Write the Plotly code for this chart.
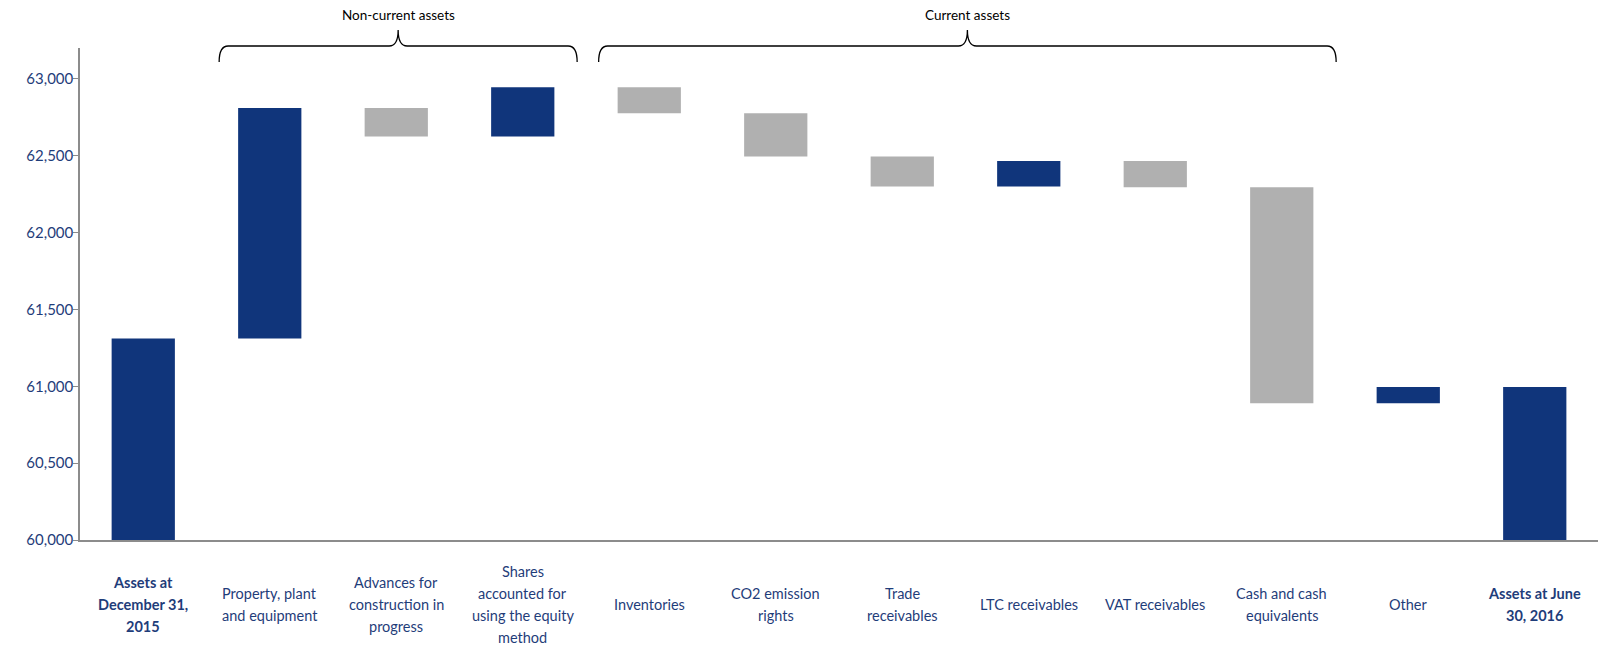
import plotly.graph_objects as go

# ---------------- data ----------------
categories = [
    "Assets at December 31, 2015", "Property, plant and equipment",
    "Advances for construction in progress",
    "Shares accounted for using the equity method", "Inventories",
    "CO2 emission rights", "Trade receivables", "LTC receivables",
    "VAT receivables", "Cash and cash equivalents", "Other",
    "Assets at June 30, 2016",
]
label_lines = [
    ["Assets at", "December 31,", "2015"],
    ["Property, plant", "and equipment"],
    ["Advances for", "construction in", "progress"],
    ["Shares", "accounted for", "using the equity", "method"],
    ["Inventories"],
    ["CO2 emission", "rights"],
    ["Trade", "receivables"],
    ["LTC receivables"],
    ["VAT receivables"],
    ["Cash and cash", "equivalents"],
    ["Other"],
    ["Assets at June", "30, 2016"],
]
bold_labels = [True] + [False] * 10 + [True]
measures = ["absolute"] + ["relative"] * 10 + ["total"]
values = [61310, 1500, -185, 320, -170, -280, -195, 165, -170, -1405, 105, 0]
y_ticks = [60000, 60500, 61000, 61500, 62000, 62500, 63000]
groups = [("Non-current assets", 1, 3), ("Current assets", 4, 9)]

# ---------------- style ----------------
BLUE = "#10357B"
GRAY = "#B0B0B0"
NAVY_TEXT = "#1F3D7A"
AXIS = "#8C8C8C"
FONT = "Lato"

W, H = 1598, 646
ML, MR, MT, MB = 80, 0, 48, 106
plot_h = H - MT - MB
n = len(categories)

fig = go.Figure(go.Waterfall(
    x=categories,
    y=values,
    measure=measures,
    base=0,
    increasing=dict(marker=dict(color=BLUE, line=dict(width=0))),
    decreasing=dict(marker=dict(color=GRAY, line=dict(width=0))),
    totals=dict(marker=dict(color=BLUE, line=dict(width=0))),
    connector=dict(visible=False),
    textinfo="none",
    hoverinfo="x+y",
))

# category labels (one annotation per line for exact line spacing)
line_gap = 22
center_shift = -64
for i, (cat, lines) in enumerate(zip(categories, label_lines)):
    k = len(lines)
    for j, line in enumerate(lines):
        txt = f"<b>{line}</b>" if bold_labels[i] else line
        fig.add_annotation(
            x=cat, xref="x", y=0, yref="paper",
            text=txt, showarrow=False, xanchor="center", yanchor="middle",
            yshift=center_shift - line_gap * (j - (k - 1) / 2),
            font=dict(family=FONT, size=14.5, color=NAVY_TEXT),
        )

# group braces
def px_to_paper_y(py):
    return (H - MB - py) / plot_h

def idx_to_paper_x(idx):
    return (idx + 0.5) / n

y_line = px_to_paper_y(46)
y_end = px_to_paper_y(62)
y_tip = px_to_paper_y(30)
dx = 9 / (W - ML - MR)
for name, first, last in groups:
    x0 = idx_to_paper_x(first - 0.4)
    x1 = idx_to_paper_x(last + 0.43)
    xm = (x0 + x1) / 2
    path = (
        f"M {x0},{y_end} Q {x0},{y_line} {x0 + dx},{y_line} "
        f"L {xm - dx},{y_line} Q {xm},{y_line} {xm},{y_tip} "
        f"Q {xm},{y_line} {xm + dx},{y_line} "
        f"L {x1 - dx},{y_line} Q {x1},{y_line} {x1},{y_end}"
    )
    fig.add_shape(type="path", path=path, xref="paper", yref="paper",
                  line=dict(color="black", width=1.3))
    fig.add_annotation(
        x=xm, xref="paper", y=px_to_paper_y(15), yref="paper",
        text=name, showarrow=False, xanchor="center", yanchor="middle",
        font=dict(family=FONT, size=13.5, color="black"),
    )

fig.update_layout(
    width=W, height=H,
    margin=dict(l=ML, r=MR, t=MT, b=MB),
    paper_bgcolor="white", plot_bgcolor="white",
    showlegend=False,
    waterfallgap=0.5,
    font=dict(family=FONT, color=NAVY_TEXT),
    xaxis=dict(
        type="category", range=[-0.5, n - 0.5],
        showticklabels=False, ticks="", showgrid=False, zeroline=False,
        showline=True, linecolor=AXIS, linewidth=1.5,
    ),
    yaxis=dict(
        range=[60000, 63200], tickvals=y_ticks, tickformat=",",
        showgrid=False, zeroline=False,
        showline=True, linecolor=AXIS, linewidth=1.5,
        ticks="outside", ticklen=5, tickcolor=AXIS, tickwidth=1.2,
        ticklabelstandoff=-3,
        tickfont=dict(family=FONT, size=15, color=NAVY_TEXT),
    ),
)

fig.write_html("out.html")
